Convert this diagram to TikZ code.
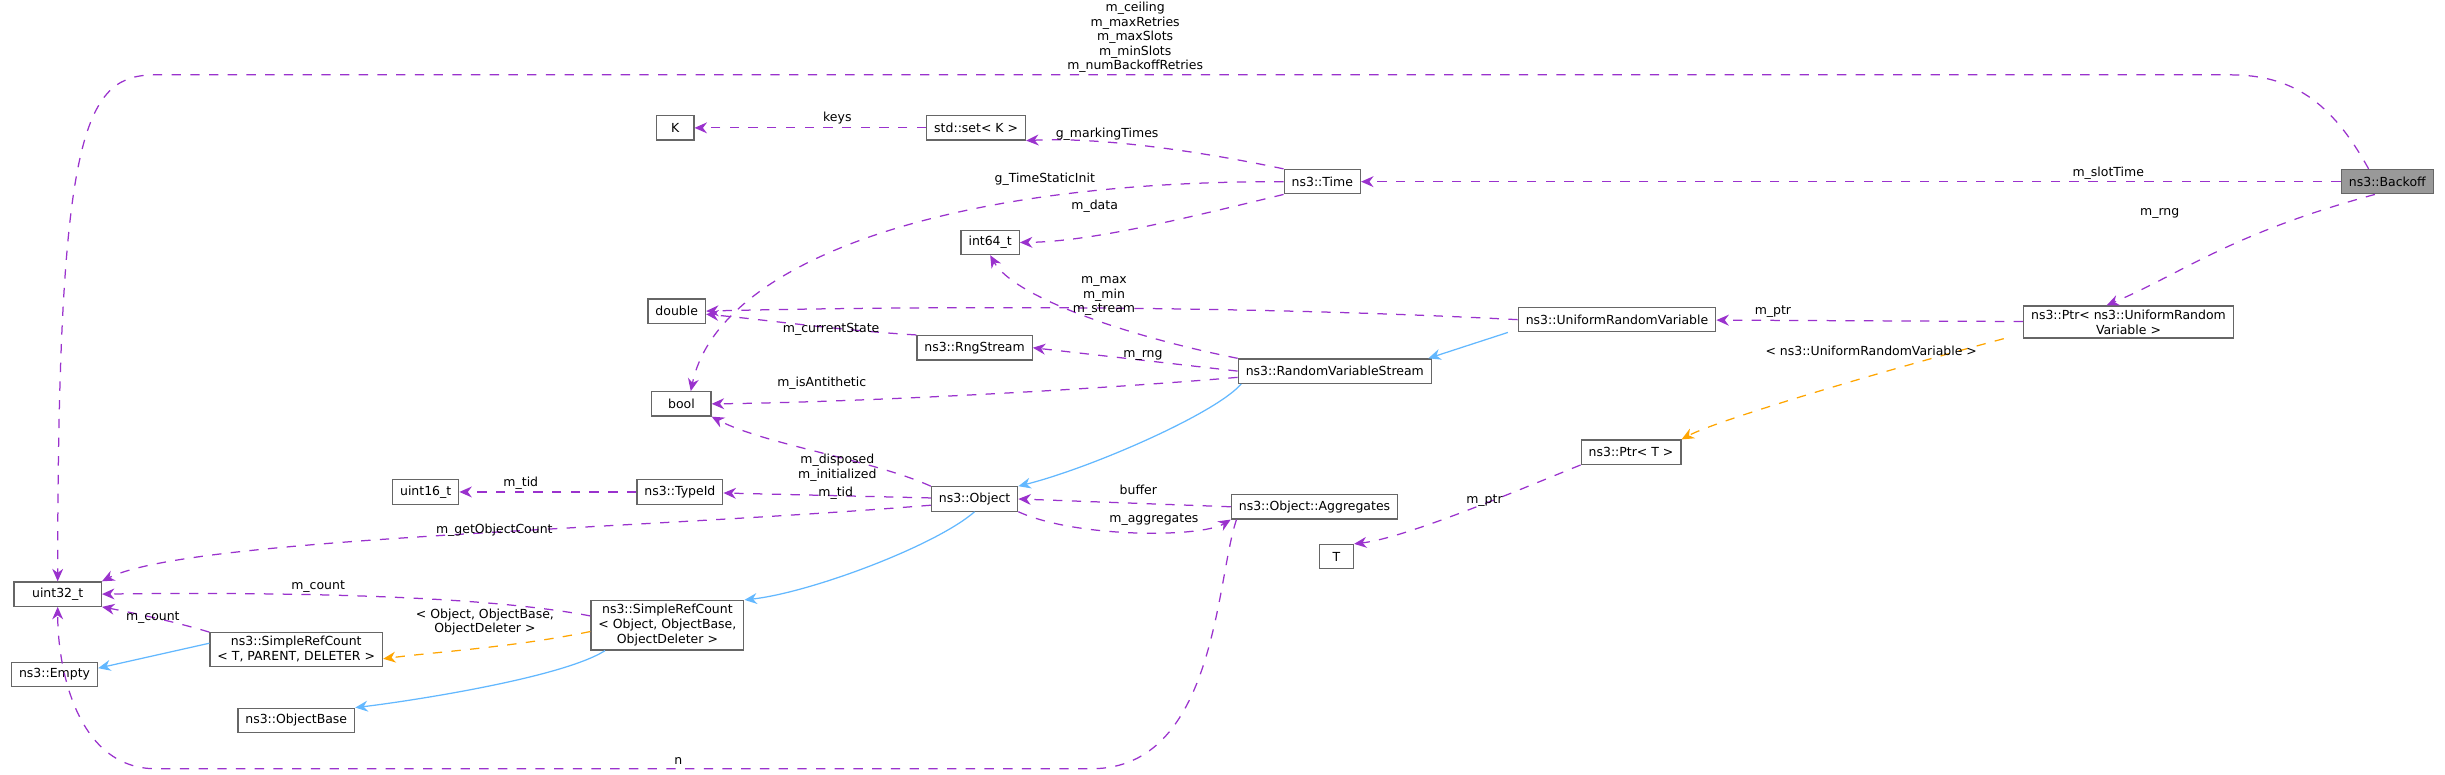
\documentclass[tikz,border=0pt]{standalone}
\usepackage{fontspec}
\setmainfont{DejaVu Sans}
\usetikzlibrary{arrows.meta, positioning}
\definecolor{memb}{HTML}{9A32CD}
\definecolor{inh}{HTML}{63B8FF}
\definecolor{tmpl}{HTML}{FFA500}
\tikzstyle{cls} = [rectangle, draw=black!60, fill=white, minimum height=7.8pt, minimum width=11pt, inner xsep=2.4pt, inner ysep=1.2pt, align=center, font=\fontsize{4}{4.8}\selectfont]
\tikzstyle{current} = [cls, fill=black!40]
\tikzstyle{member} = [draw=memb, dashed, line width=0.4pt, -{Stealth[length=4pt,width=3.5pt]}]
\tikzstyle{inherit} = [draw=inh, line width=0.4pt, -{Stealth[length=4pt,width=3.5pt]}]
\tikzstyle{templ} = [draw=tmpl, dashed, line width=0.4pt, -{Stealth[length=4pt,width=3.5pt]}]
\tikzstyle{lbl} = [align=center, inner sep=0pt, font=\fontsize{4}{4.6}\selectfont]

\begin{document}
\begin{tikzpicture}[x=0.5pt, y=-0.5pt]
\useasboundingbox (0,0) rectangle (1568,497);
% classes
\node (backoff) [current] at (1531,116.5) {ns3::Backoff};
\node (time) [cls] at (848,116.5) {ns3::Time};
\node (set) [cls] at (626,82) {std::set< K >};
\node (k) [cls, minimum width=12pt] at (433,82) {K};
\node (int64) [cls] at (635,155.5) {int64\_t};
\node (double) [cls] at (434,199.5) {double};
\node (urv) [cls] at (1037,205) {ns3::UniformRandomVariable};
\node (ptrurv) [cls] at (1365,206.5) {ns3::Ptr< ns3::UniformRandom\\Variable >};
\node (rng) [cls] at (625,223) {ns3::RngStream};
\node (rvs) [cls] at (856,238) {ns3::RandomVariableStream};
\node (bool) [cls, minimum width=19pt] at (437,259) {bool};
\node (uint16) [cls] at (273,315.5) {uint16\_t};
\node (typeid) [cls] at (436,315.5) {ns3::TypeId};
\node (object) [cls] at (625,320) {ns3::Object};
\node (aggr) [cls] at (843,325) {ns3::Object::Aggregates};
\node (ptrt) [cls] at (1046,290) {ns3::Ptr< T >};
\node (t) [cls] at (857,357) {T};
\node (uint32) [cls, minimum width=28pt] at (37,381) {uint32\_t};
\node (srcobj) [cls] at (428,401) {ns3::SimpleRefCount\\< Object, ObjectBase,\\ObjectDeleter >};
\node (srct) [cls] at (190,416.5) {ns3::SimpleRefCount\\< T, PARENT, DELETER >};
\node (empty) [cls] at (35,432.5) {ns3::Empty};
\node (objbase) [cls] at (190,462) {ns3::ObjectBase};
% members
\draw [member] ([xshift=-6pt]backoff.north) .. controls (1495,65) and (1470,48) .. (1430,48) -- (100,48) .. controls (55,48) and (37,80) .. (uint32.north);
\draw [member] (backoff) -- (time);
\draw [member] ([xshift=-4pt]backoff.south) .. controls (1430,150) and (1400,175) .. ([xshift=-7pt]ptrurv.north);
\draw [member] (time.north west) .. controls (760,95) and (700,88) .. (set.south east);
\draw [member] (set) -- (k);
\draw [member] (time.south west) .. controls (760,140) and (700,155) .. (int64.east);
\draw [member] (time.west) .. controls (600,116) and (460,170) .. ([xshift=3pt]bool.north);
\draw [member] (urv.west) .. controls (800,196) and (600,196) .. (double.east);
\draw [member] (rvs.north west) .. controls (720,215) and (650,190) .. (int64.south);
\draw [member] (rng.north west) .. controls (540,212) and (490,205) .. ([yshift=-1pt]double.east);
\draw [member] (rvs.west) -- (rng.east);
\draw [member] ([yshift=-2pt]rvs.west) .. controls (700,250) and (550,258) .. (bool.east);
\draw [member] (object.north west) .. controls (560,295) and (490,285) .. (bool.south east);
\draw [member] (typeid) -- (uint16);
\draw [member] (object) -- (typeid);
\draw [member] ([yshift=-2pt]object.west) .. controls (400,340) and (120,345) .. (uint32.north east);
\draw [member] (aggr.west) -- (object.east);
\draw [member] (object.south east) .. controls (690,345) and (770,345) .. (aggr.south west);
\draw [member] ([yshift=3pt]srcobj.west) .. controls (300,380) and (150,380) .. (uint32.east);
\draw [member] (srct.north west) .. controls (110,398) and (80,392) .. (uint32.south east);
\draw [member] ([xshift=-25pt]aggr.south) .. controls (780,370) and (780,493) .. (700,493) -- (100,493) .. controls (50,493) and (37,430) .. (uint32.south);
\draw [member] (ptrurv) -- (urv);
\draw [member] (ptrt.south west) .. controls (960,320) and (900,345) .. (t.north east);
% templates
\draw [templ] ([xshift=-40pt]ptrurv.south) .. controls (1200,240) and (1100,270) .. (ptrt.north east);
\draw [templ] ([yshift=-2pt]srcobj.west) .. controls (330,415) and (280,418) .. ([yshift=-3pt]srct.east);
% inheritance
\draw [inherit] ([xshift=-35pt]urv.south) -- ([xshift=30pt]rvs.north);
\draw [inherit] ([xshift=-30pt]rvs.south) .. controls (780,265) and (700,300) .. (object.north east);
\draw [inherit] (object.south) .. controls (600,350) and (520,380) .. (srcobj.north east);
\draw [inherit] ([xshift=-20pt]srcobj.south) .. controls (360,435) and (260,450) .. (objbase.north east);
\draw [inherit] ([yshift=2pt]srct.west) -- ([yshift=2pt]empty.east);
% labels
\node (l1) [lbl] at (728,24) {m\_ceiling\\m\_maxRetries\\m\_maxSlots\\m\_minSlots\\m\_numBackoffRetries};
\node (l2) [lbl] at (1352,111) {m\_slotTime};
\node (l3) [lbl] at (1385,137) {m\_rng};
\node (l4) [lbl] at (710,86) {g\_markingTimes};
\node (l5) [lbl] at (537,76) {keys};
\node (l6) [lbl] at (670,115) {g\_TimeStaticInit};
\node (l7) [lbl] at (702,132) {m\_data};
\node (l8) [lbl] at (708,190) {m\_max\\m\_min\\m\_stream};
\node (l9) [lbl] at (533,211) {m\_currentState};
\node (l10) [lbl] at (733,228) {m\_rng};
\node (l11) [lbl] at (527,246) {m\_isAntithetic};
\node (l12) [lbl] at (537,300) {m\_disposed\\m\_initialized};
\node (l13) [lbl] at (334,310) {m\_tid};
\node (l14) [lbl] at (536,316) {m\_tid};
\node (l15) [lbl] at (317,340) {m\_getObjectCount};
\node (l16) [lbl] at (730,314) {buffer};
\node (l17) [lbl] at (740,333) {m\_aggregates};
\node (l18) [lbl] at (204,376) {m\_count};
\node (l19) [lbl] at (98,396) {m\_count};
\node (l20) [lbl] at (311,399) {< Object, ObjectBase,\\ObjectDeleter >};
\node (l21) [lbl] at (435,488) {n};
\node (l22) [lbl] at (1137,200) {m\_ptr};
\node (l23) [lbl] at (1200,225) {< ns3::UniformRandomVariable >};
\node (l24) [lbl] at (952,321) {m\_ptr};
\end{tikzpicture}
\end{document}
